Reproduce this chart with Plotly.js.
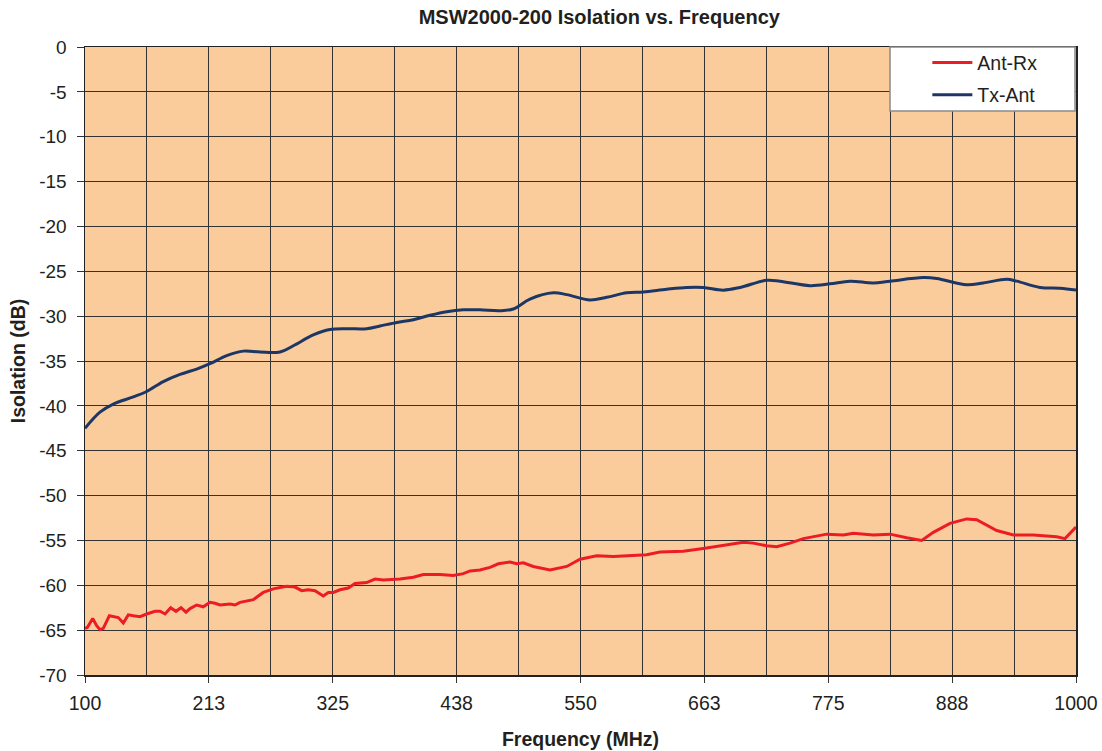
<!DOCTYPE html>
<html>
<head>
<meta charset="utf-8">
<script src="https://cdn.plot.ly/plotly-3.0.1.min.js"></script>
<style>html,body{margin:0;padding:0;background:#fff;}#chart{width:1102px;height:751px;}</style>
</head>
<body>
<div id="chart"></div>
<script>
// Ant-Rx (red) series
const antRxFreq = [100,102.1,107,110.6,113.6,116.6,122.1,125.7,130.2,134.8,139.3,143.9,150,156,163.6,168.1,172.7,177.8,182.6,187.2,191.7,195.4,201.4,207.4,213.5,218.1,222.6,231.7,236.2,240.8,252.9,261.9,271,283.2,290.7,296.8,302.8,308.9,316.4,321,325.5,331.6,339.1,345.2,355.8,363.4,370.9,386.1,398.2,407.2,422.4,434.5,443.6,449.7,458.7,467.8,475.4,486,492.1,498.1,507.1,522.3,537.5,549.6,564.7,579.8,598,610.1,622.2,643.4,661.5,676.7,697.9,706.9,719.1,728.2,740.3,752.4,773.6,788.7,797.8,815.9,831.1,846.3,859.9,870.4,885.6,900.7,909.8,928,943.1,961.3,970.4,982.5,990,1000];
const antRxDb = [-64.8,-64.7,-63.7,-64.5,-64.95,-64.8,-63.4,-63.5,-63.6,-64.2,-63.3,-63.4,-63.5,-63.2,-62.9,-62.9,-63.2,-62.5,-62.9,-62.5,-63.0,-62.6,-62.2,-62.4,-61.9,-62.0,-62.2,-62.1,-62.2,-61.9,-61.6,-60.8,-60.4,-60.1,-60.2,-60.6,-60.5,-60.6,-61.2,-60.8,-60.8,-60.5,-60.3,-59.8,-59.7,-59.3,-59.4,-59.3,-59.1,-58.8,-58.8,-58.9,-58.7,-58.4,-58.3,-58.0,-57.6,-57.4,-57.6,-57.5,-57.9,-58.3,-57.9,-57.1,-56.7,-56.8,-56.7,-56.6,-56.3,-56.2,-55.9,-55.6,-55.2,-55.3,-55.6,-55.7,-55.3,-54.8,-54.3,-54.4,-54.2,-54.4,-54.3,-54.7,-55.0,-54.1,-53.1,-52.6,-52.7,-53.9,-54.4,-54.4,-54.5,-54.6,-54.8,-53.5];

// Tx-Ant (blue) series
const txAntFreq = [100,113.6,125.7,143.9,156,171.1,186.3,201.4,213.5,228.7,243.8,258.9,277.1,289.2,307.3,322.5,337.7,355.8,367.9,383.1,398.2,413.3,428.5,443.6,458.7,476.9,489,504.1,525.3,537.5,558.6,573.8,592,607,628.3,646.5,661.5,679.7,694.9,719.1,731.2,758.4,776.6,794.8,815.9,831.1,861.3,873.5,900.7,915.8,937.1,946.2,967.3,985.5,1000];
const txAntDb = [-42.5,-40.7,-39.8,-39.0,-38.4,-37.3,-36.5,-35.9,-35.3,-34.4,-33.9,-34.0,-34.0,-33.3,-32.1,-31.5,-31.4,-31.4,-31.1,-30.7,-30.4,-29.9,-29.5,-29.3,-29.3,-29.4,-29.2,-28.1,-27.4,-27.6,-28.2,-27.9,-27.4,-27.3,-27.0,-26.8,-26.8,-27.1,-26.8,-26.0,-26.1,-26.6,-26.4,-26.1,-26.3,-26.1,-25.7,-25.8,-26.5,-26.3,-25.9,-26.1,-26.8,-26.9,-27.1];

// Axis ticks
const xTickVals = [100,212.5,325,437.5,550,662.5,775,887.5,1000];
const xTickText = ['100','213','325','438','550','663','775','888','1000'];
const yTickVals = [0,-5,-10,-15,-20,-25,-30,-35,-40,-45,-50,-55,-60,-65,-70];
const yTickText = ['0','-5','-10','-15','-20','-25','-30','-35','-40','-45','-50','-55','-60','-65','-70'];

const FONT = 'Liberation Sans, Arial, sans-serif';
const TXT = '#231f20';

const traces = [
  {x: antRxFreq, y: antRxDb, name: 'Ant-Rx', type: 'scatter', mode: 'lines',
   line: {color: '#ed1c24', width: 3}, legendgroup: 'a'},
  {x: txAntFreq, y: txAntDb, name: 'Tx-Ant', type: 'scatter', mode: 'lines',
   line: {color: '#1c3766', width: 3, shape: 'spline', smoothing: 1}, legendgroup: 'b'}
];

const layout = {
  width: 1102, height: 751,
  margin: {l: 85, r: 26, t: 47, b: 76},
  paper_bgcolor: '#ffffff',
  plot_bgcolor: '#facc9c',
  font: {family: FONT, color: TXT, size: 19},
  title: {text: '<b>MSW2000-200 Isolation vs. Frequency</b>', font: {family: FONT, size: 20, color: TXT},
          x: 0.519, xref: 'paper', xanchor: 'center', y: 1 - 17/751, yref: 'container', yanchor: 'middle'},
  xaxis: {
    range: [100, 1000], tickvals: xTickVals, ticktext: xTickText,
    ticks: 'outside', ticklen: 6, tickcolor: '#333', tickwidth: 1,
    showgrid: true, gridcolor: '#333333', gridwidth: 1,
    minor: {dtick: 56.25, tick0: 100, showgrid: true, gridcolor: '#333333', gridwidth: 1, ticklen: 0},
    showline: true, linecolor: '#222', linewidth: 1.5, mirror: true, zeroline: false,
    tickfont: {size: 19.5, family: FONT, color: TXT}, ticklabelstandoff: 4,
    title: {text: '<b>Frequency (MHz)</b>', font: {size: 19.5, family: FONT, color: TXT}, standoff: 19}
  },
  yaxis: {
    range: [-70, 0], tickvals: yTickVals, ticktext: yTickText,
    ticks: 'outside', ticklen: 7, tickcolor: '#333', tickwidth: 1,
    showgrid: true, gridcolor: '#333333', gridwidth: 1,
    showline: true, linecolor: '#222', linewidth: 1.5, mirror: true, zeroline: false,
    tickfont: {size: 19, family: FONT, color: TXT}, ticklabelstandoff: 6,
    title: {text: '<b>Isolation (dB)</b>', font: {size: 19.5, family: FONT, color: TXT}, standoff: 8}
  },
  showlegend: true,
  legend: {x: 0.85, xanchor: 'left', y: 1.006, yanchor: 'top', bgcolor: 'rgba(0,0,0,0)', borderwidth: 0,
           font: {size: 19.5, family: FONT, color: TXT}, tracegroupgap: 4, traceorder: 'grouped', itemwidth: 40},
  shapes: [
    {type: 'rect', xref: 'paper', yref: 'paper', x0: (890-85)/991, x1: (1075-85)/991,
     y0: 1 - (111-47)/628, y1: 1, fillcolor: '#ffffff', line: {color: '#8a8a8a', width: 1.5}, layer: 'above'}
  ]
};

Plotly.newPlot('chart', traces, layout, {displayModeBar: false, staticPlot: true});
</script>
</body>
</html>
